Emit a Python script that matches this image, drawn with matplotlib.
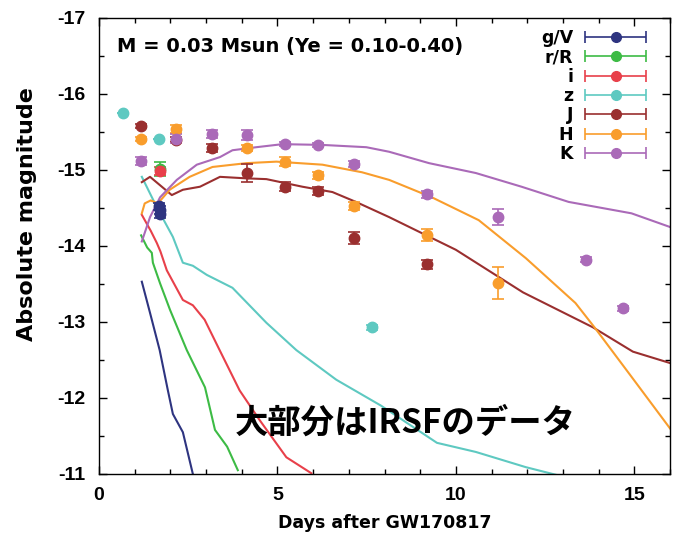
import numpy as np
import matplotlib
matplotlib.use("Agg")
import matplotlib.pyplot as plt
from matplotlib.lines import Line2D
from matplotlib.collections import LineCollection
from matplotlib.container import ErrorbarContainer
from matplotlib.legend_handler import HandlerErrorbar
from matplotlib.ticker import MultipleLocator

plt.rcParams['font.family'] = ['DejaVu Sans']
plt.rcParams['axes.unicode_minus'] = False

# ---------------- data ----------------
bands = ['g/V', 'r/R', 'i', 'z', 'J', 'H', 'K']
colors = ['#2e3480', '#3dbb45', '#e8404a', '#5ec9c1', '#9a2f2f', '#f99d2c', '#aa6ab8']

# model light curves (days, abs. mag)
gV_mx = [1.2, 1.43, 1.70, 1.93, 2.07, 2.35, 2.63]
gV_my = [-13.53, -13.12, -12.63, -12.10, -11.79, -11.55, -11.00]
rR_mx = [1.18, 1.35, 1.48, 1.51, 1.71, 1.99, 2.46, 2.97, 3.25, 3.59, 3.89]
rR_my = [-14.14, -13.98, -13.91, -13.78, -13.51, -13.16, -12.63, -12.14, -11.58, -11.36, -11.05]
i_mx = [1.2, 1.45, 1.62, 1.72, 1.90, 2.35, 2.63, 2.96, 3.38, 3.94, 4.50, 5.25, 5.95]
i_my = [-14.41, -14.20, -14.04, -13.93, -13.68, -13.29, -13.22, -13.03, -12.63, -12.10, -11.71, -11.22, -11.01]
z_mx = [1.2, 1.62, 2.07, 2.35, 2.63, 3.02, 3.74, 4.69, 5.53, 6.65, 7.90, 9.47, 10.56, 11.96, 12.80]
z_my = [-14.91, -14.51, -14.12, -13.78, -13.74, -13.62, -13.45, -12.99, -12.63, -12.24, -11.90, -11.41, -11.29, -11.09, -10.99]
J_mx = [1.2, 1.43, 2.04, 2.35, 2.83, 3.39, 4.13, 4.69, 5.70, 6.54, 7.20, 8.13, 10.0, 11.88, 13.84, 14.96, 16.0]
J_my = [-14.84, -14.91, -14.67, -14.74, -14.78, -14.91, -14.89, -14.88, -14.78, -14.71, -14.58, -14.38, -13.95, -13.39, -12.93, -12.61, -12.46]
H_mx = [1.2, 1.28, 1.45, 1.65, 1.98, 2.54, 3.18, 4.13, 4.97, 6.26, 7.37, 8.13, 9.33, 10.64, 11.96, 13.35, 13.90, 14.92, 16.0]
H_my = [-14.43, -14.56, -14.60, -14.56, -14.74, -14.91, -15.04, -15.09, -15.11, -15.07, -14.97, -14.87, -14.64, -14.34, -13.84, -13.25, -12.92, -12.28, -11.60]
K_mx = [1.2, 1.43, 1.71, 2.18, 2.74, 3.39, 3.74, 4.41, 5.14, 6.26, 7.49, 8.13, 9.25, 10.56, 11.84, 13.16, 14.92, 16.0]
K_my = [-14.06, -14.38, -14.64, -14.87, -15.07, -15.17, -15.26, -15.30, -15.34, -15.33, -15.30, -15.24, -15.09, -14.96, -14.78, -14.58, -14.43, -14.25]

# observed photometry (days, abs. mag, error)
gV_x = [1.68, 1.72, 1.70]
gV_y = [-14.52, -14.47, -14.42]
gV_e = [0.05, 0.05, 0.05]
rR_x = [1.72]
rR_y = [-15.01]
rR_e = [0.09]
i_x = [1.72]
i_y = [-14.99]
i_e = [0.05]
z_x = [0.67, 1.68, 7.65]
z_y = [-15.75, -15.41, -12.93]
z_e = [0.0, 0.0, 0.03]
J_x = [1.17, 2.15, 3.16, 4.16, 5.20, 6.15, 7.15, 9.19]
J_y = [-15.58, -15.40, -15.29, -14.96, -14.78, -14.72, -14.11, -13.76]
J_e = [0.03, 0.03, 0.05, 0.12, 0.06, 0.05, 0.08, 0.06]
H_x = [1.17, 2.15, 4.16, 5.20, 6.15, 7.15, 9.19, 11.17]
H_y = [-15.41, -15.54, -15.29, -15.11, -14.93, -14.53, -14.14, -13.51]
H_e = [0.03, 0.05, 0.04, 0.06, 0.05, 0.05, 0.08, 0.21]
K_x = [1.17, 2.15, 3.16, 4.16, 5.20, 6.15, 7.15, 9.19, 11.17, 13.66, 14.69]
K_y = [-15.12, -15.41, -15.47, -15.46, -15.34, -15.33, -15.08, -14.68, -14.38, -13.82, -13.18]
K_e = [0.05, 0.06, 0.05, 0.06, 0.03, 0.03, 0.04, 0.05, 0.11, 0.03, 0.03]

models = [(gV_mx, gV_my), (rR_mx, rR_my), (i_mx, i_my), (z_mx, z_my),
          (J_mx, J_my), (H_mx, H_my), (K_mx, K_my)]
obs = [(gV_x, gV_y, gV_e), (rR_x, rR_y, rR_e), (i_x, i_y, i_e), (z_x, z_y, z_e),
       (J_x, J_y, J_e), (H_x, H_y, H_e), (K_x, K_y, K_e)]

title = 'M = 0.03 Msun (Ye = 0.10-0.40)'
note = '大部分はIRSFのデータ'

# ---------------- figure ----------------
fig = plt.figure(figsize=(6.78, 5.35), dpi=100)
ax = fig.add_axes([99 / 678, 1 - 474 / 535, 571 / 678, 456 / 535])

for (mx, my), c in zip(models, colors):
    ax.plot(mx, my, color=c, lw=1.5, zorder=2, solid_joinstyle='round')

for (x, y, e), c in zip(obs, colors):
    ax.errorbar(x, y, yerr=e, fmt='o', color=c, ms=7.5, capsize=4,
                elinewidth=1.2, capthick=1.2, zorder=3)

ax.set_xlim(0, 16)
ax.set_ylim(-11, -17)
ax.xaxis.set_major_locator(MultipleLocator(5))
ax.xaxis.set_minor_locator(MultipleLocator(1))
ax.yaxis.set_major_locator(MultipleLocator(1))
ax.yaxis.set_minor_locator(MultipleLocator(0.5))
ax.tick_params(which='both', direction='in', top=True, right=True, width=1)
ax.tick_params(which='major', length=6)
ax.tick_params(axis='x', which='major', pad=9)
ax.tick_params(axis='y', which='major', pad=10)
ax.tick_params(which='minor', length=3.5)
for s in ax.spines.values():
    s.set_linewidth(1.0)
for lab in ax.get_xticklabels() + ax.get_yticklabels():
    lab.set_fontfamily('Liberation Sans')
    lab.set_fontweight('bold')
    lab.set_fontsize(14)

ax.set_xlabel('Days after GW170817', fontsize=12.5, fontweight='bold')
ax.xaxis.set_label_coords(0.5, -0.088)
ax.set_ylabel('Absolute magnitude', fontsize=16, fontweight='bold')
ax.yaxis.set_label_coords(-0.108, 0.57)

ax.text(0.5, -16.62, title, fontsize=14, fontweight='bold', ha='left', va='center')
ax.text(8.57, -11.67, note, fontsize=24, fontweight='bold', ha='center', va='center',
        family=['Noto Sans CJK JP', 'DejaVu Sans'], zorder=5)

# legend with horizontal error-bar handles
handles = []
for b, c in zip(bands, colors):
    ml = Line2D([], [], ls='none', marker='o', color=c, ms=7)
    cap = Line2D([], [], ls='none', marker='|', color=c, ms=8, mew=1.2)
    lc = LineCollection([], colors=c, linewidths=1.2)
    handles.append(ErrorbarContainer((ml, (cap,), (lc,)), has_xerr=True,
                                     has_yerr=False, label=b))
hl = 3.5
leg = ax.legend(handles=handles, labels=bands, loc='upper right',
                bbox_to_anchor=(0.958, 0.976), frameon=False, markerfirst=False,
                prop={'weight': 'bold', 'size': 12.5},
                handlelength=hl, handletextpad=0.7, labelspacing=0.08,
                borderpad=0, borderaxespad=0,
                handler_map={ErrorbarContainer: HandlerErrorbar(xerr_size=hl / 2)})

fig.savefig('out.png', dpi=100)
